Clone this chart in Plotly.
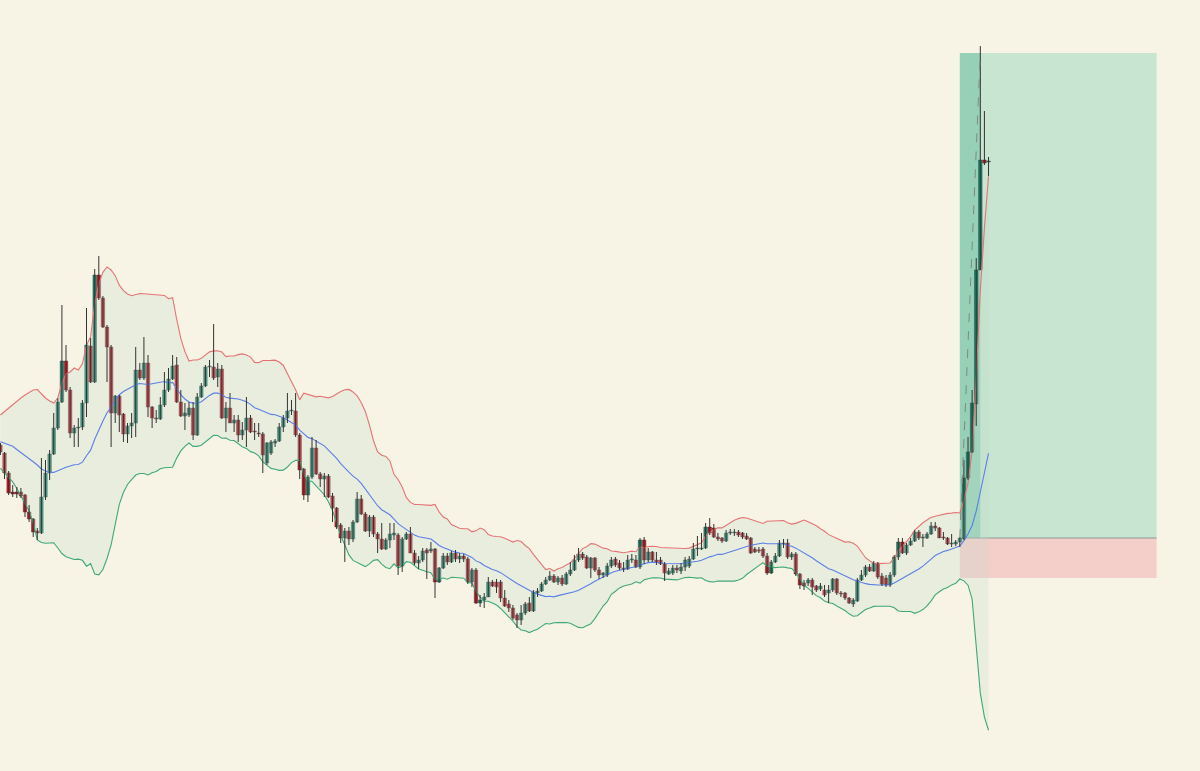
import numpy as np
import pandas as pd
import plotly.graph_objects as go

# ---- candle data (price units) ----
opens = [555, 547, 527, 508, 508, 508, 505, 488, 481, 469,
         467, 503, 527, 546, 572, 598, 639, 610, 567, 572,
         573, 597, 654, 618, 725, 702, 673, 653, 587, 604,
         586, 566, 574, 577, 630, 622, 637, 593, 582, 581,
         595, 610, 621, 635, 598, 584, 585, 592, 565, 603,
         614, 633, 633, 623, 631, 582, 592, 577, 580, 565,
         570, 582, 569, 567, 566, 537, 547, 557, 559, 573,
         582, 589, 589, 565, 531, 505, 523, 552, 526, 521,
         524, 504, 492, 475, 462, 469, 461, 478, 501, 486,
         469, 483, 466, 461, 451, 460, 465, 465, 434, 461,
         466, 447, 437, 440, 450, 449, 451, 418, 432, 444,
         438, 447, 441, 444, 441, 418, 430, 397, 400, 403,
         418, 418, 418, 402, 396, 392, 385, 380, 387, 397,
         389, 407, 409, 416, 420, 424, 418, 422, 416, 426,
         430, 440, 446, 443, 432, 442, 430, 425, 425, 434,
         441, 437, 432, 431, 440, 440, 433, 460, 440, 448,
         440, 440, 436, 426, 427, 432, 429, 433, 434, 441,
         451, 451, 452, 473, 472, 463, 462, 459, 467, 467,
         468, 467, 464, 462, 451, 450, 451, 444, 427, 438,
         444, 457, 457, 443, 446, 426, 417, 417, 420, 414,
         411, 410, 407, 410, 421, 407, 407, 402, 396, 399,
         420, 425, 433, 429, 437, 424, 422, 415, 425, 443,
         458, 447, 455, 459, 468, 462, 462, 466, 474, 472,
         463, 462, 456, 456, 458, 461, 522, 548, 596, 730,
         840, 838]
highs = [557, 548, 529, 515, 513, 512, 506, 495, 482, 472,
         542, 540, 550, 587, 602, 695, 655, 613, 575, 582,
         600, 692, 662, 731, 744, 704, 675, 655, 605, 605,
         587, 577, 587, 653, 637, 663, 645, 594, 590, 603,
         628, 632, 645, 643, 610, 597, 598, 598, 607, 617,
         635, 640, 676, 637, 635, 598, 607, 585, 585, 578,
         603, 585, 577, 577, 568, 558, 560, 561, 577, 585,
         607, 600, 607, 567, 532, 525, 563, 560, 528, 527,
         526, 507, 493, 477, 472, 473, 480, 508, 505, 488,
         485, 485, 468, 477, 462, 477, 477, 467, 463, 468,
         473, 450, 444, 452, 452, 458, 452, 433, 447, 447,
         449, 450, 447, 446, 443, 432, 432, 405, 407, 423,
         420, 421, 420, 410, 400, 395, 387, 395, 398, 403,
         410, 412, 418, 423, 429, 426, 424, 425, 428, 438,
         445, 452, 448, 445, 443, 443, 433, 428, 437, 443,
         443, 440, 438, 445, 446, 445, 462, 463, 452, 449,
         448, 443, 438, 432, 435, 435, 437, 443, 444, 457,
         464, 467, 477, 482, 476, 467, 463, 470, 471, 471,
         470, 468, 467, 463, 453, 453, 453, 447, 440, 447,
         460, 461, 461, 448, 448, 427, 420, 422, 422, 415,
         417, 415, 415, 422, 422, 409, 408, 403, 402, 422,
         430, 435, 436, 439, 438, 427, 425, 428, 445, 462,
         462, 457, 462, 470, 470, 466, 468, 478, 478, 473,
         468, 463, 466, 460, 463, 540, 563, 610, 742, 954,
         889, 843]
lows = [545, 521, 505, 503, 502, 502, 483, 478, 463, 460,
        466, 500, 520, 545, 570, 597, 608, 562, 553, 553,
        570, 583, 617, 617, 700, 672, 618, 553, 577, 568,
        558, 557, 562, 563, 620, 620, 583, 572, 577, 580,
        593, 608, 620, 597, 583, 570, 583, 560, 564, 602,
        613, 623, 620, 613, 581, 568, 577, 568, 558, 560,
        553, 567, 560, 563, 527, 535, 545, 553, 558, 568,
        577, 585, 563, 521, 500, 498, 521, 525, 513, 503,
        502, 478, 471, 457, 438, 455, 458, 477, 485, 468,
        463, 463, 447, 450, 450, 452, 460, 425, 428, 460,
        447, 435, 431, 438, 421, 447, 402, 417, 431, 435,
        437, 438, 437, 438, 416, 413, 396, 393, 392, 403,
        413, 407, 398, 393, 388, 380, 372, 375, 385, 388,
        388, 403, 408, 415, 419, 417, 415, 414, 415, 424,
        429, 438, 440, 431, 422, 428, 421, 422, 423, 432,
        433, 430, 428, 430, 437, 432, 431, 436, 438, 438,
        435, 435, 419, 425, 425, 427, 426, 429, 432, 440,
        444, 450, 451, 465, 462, 459, 457, 458, 465, 464,
        463, 461, 460, 446, 447, 447, 442, 425, 426, 437,
        443, 452, 441, 440, 424, 411, 410, 414, 405, 408,
        409, 403, 397, 408, 405, 403, 400, 396, 393, 398,
        419, 423, 428, 428, 421, 414, 413, 413, 423, 440,
        446, 445, 454, 458, 460, 453, 461, 465, 469, 462,
        460, 455, 453, 454, 453, 460, 520, 547, 574, 730,
        835, 824]
closes = [548, 527, 507, 506, 506, 504, 488, 481, 468, 467,
          503, 527, 546, 572, 598, 639, 610, 567, 572, 573,
          597, 655, 618, 725, 702, 673, 653, 587, 604, 585,
          566, 574, 577, 630, 622, 637, 593, 582, 581, 595,
          610, 621, 634, 598, 584, 587, 592, 565, 603, 614,
          633, 634, 622, 631, 582, 592, 577, 580, 565, 570,
          582, 568, 568, 566, 545, 557, 558, 559, 573, 582,
          589, 590, 565, 530, 505, 523, 552, 526, 521, 524,
          503, 492, 473, 462, 469, 461, 478, 501, 486, 469,
          483, 466, 461, 451, 460, 466, 467, 434, 461, 466,
          447, 437, 440, 449, 447, 451, 418, 432, 444, 438,
          447, 441, 444, 441, 418, 430, 397, 400, 403, 418,
          414, 413, 402, 394, 392, 382, 380, 387, 396, 389,
          408, 409, 416, 420, 424, 418, 422, 416, 426, 430,
          440, 446, 442, 432, 442, 430, 425, 427, 434, 440,
          435, 432, 431, 440, 441, 433, 460, 440, 448, 440,
          438, 436, 427, 429, 432, 430, 433, 440, 441, 451,
          452, 452, 473, 467, 463, 461, 459, 467, 468, 468,
          465, 463, 461, 447, 448, 449, 444, 427, 438, 444,
          457, 456, 443, 446, 426, 415, 414, 420, 413, 410,
          414, 405, 410, 421, 407, 406, 402, 397, 400, 420,
          425, 433, 429, 437, 423, 416, 415, 425, 443, 458,
          447, 455, 459, 468, 462, 463, 466, 474, 472, 462,
          462, 456, 457, 458, 462, 522, 548, 597, 730, 840,
          837, 839]

# Bollinger values for the first 19 bars (their window starts before the visible data)
bb_head_upper = [585, 588.5, 592, 595, 599, 602, 605, 607.5, 610, 610.5,
                 606, 602, 599, 597, 602, 617, 626, 628, 632]
bb_head_mid = [558.3, 557, 555.2, 553.8, 550.5, 547.2, 544.3, 541.3, 538.2, 535,
               531, 529, 527.6, 527.6, 529.5, 531, 532.8, 534, 535.3]
bb_head_lower = [531.7, 527.2, 522.6, 518.1, 511.5, 504.2, 496.9, 489.2, 477, 460,
                 457.5, 456.7, 457, 457.3, 452, 446.5, 443.2, 441.8, 440.5]

# Long position tool
entry_bar = 234
target_hit_bar = 239
position_end_bar = 282
entry_price = 462
target_price = 947
stop_price = 422

# ---- derived ----
n = len(closes)
bars = list(range(n))
s = pd.Series(closes, dtype=float)
bb_mid = s.rolling(20).mean()
bb_sd = s.rolling(20).std(ddof=0)
bb_up = bb_mid + 2 * bb_sd
bb_lo = bb_mid - 2 * bb_sd
k = len(bb_head_mid)
bb_mid.iloc[:k] = bb_head_mid
bb_up.iloc[:k] = bb_head_upper
bb_lo.iloc[:k] = bb_head_lower

UP_COL = "#13866a"
DN_COL = "#d0101c"
EDGE = "#3a3a3a"
BG = "#f8f4e5"

fig = go.Figure()

fig.add_trace(go.Scatter(x=bars, y=bb_up, mode="lines",
                         line=dict(color="#e47474", width=1.1), hoverinfo="skip", showlegend=False))
fig.add_trace(go.Scatter(x=bars, y=bb_lo, mode="lines", fill="tonexty",
                         fillcolor="rgba(195,220,205,0.28)",
                         line=dict(color="#3fa877", width=1.1), hoverinfo="skip", showlegend=False))
fig.add_trace(go.Scatter(x=bars, y=bb_mid, mode="lines",
                         line=dict(color="#5a7fe6", width=1.1), hoverinfo="skip", showlegend=False))

# wicks
wx, wy = [], []
for i in bars:
    wx += [i, i, None]
    wy += [lows[i], highs[i], None]
fig.add_trace(go.Scatter(x=wx, y=wy, mode="lines", line=dict(color="#333333", width=1),
                         hoverinfo="skip", showlegend=False))

# bodies
body_base = [min(o, c) for o, c in zip(opens, closes)]
body_len = [max(abs(c - o), 0.8) for o, c in zip(opens, closes)]
body_col = [UP_COL if c >= o else DN_COL for o, c in zip(opens, closes)]
fig.add_trace(go.Bar(x=bars, y=body_len, base=body_base, width=0.86,
                     marker=dict(color=body_col, line=dict(color=EDGE, width=0.45)),
                     hoverinfo="skip", showlegend=False))

shapes = [
    dict(type="rect", xref="x", yref="y", x0=entry_bar, x1=position_end_bar,
         y0=entry_price, y1=target_price, fillcolor="#c7e5d0", line=dict(width=0), layer="below"),
    dict(type="rect", xref="x", yref="y", x0=entry_bar, x1=target_hit_bar,
         y0=entry_price, y1=target_price, fillcolor="rgba(60,170,135,0.35)", line=dict(width=0), layer="below"),
    dict(type="rect", xref="x", yref="y", x0=entry_bar, x1=position_end_bar,
         y0=stop_price, y1=entry_price, fillcolor="#f4cfc9", line=dict(width=0), layer="below"),
    dict(type="line", xref="x", yref="y", x0=entry_bar, x1=position_end_bar,
         y0=entry_price, y1=entry_price, line=dict(color="#8a9a96", width=1), layer="below"),
    dict(type="line", xref="x", yref="y", x0=entry_bar, x1=target_hit_bar,
         y0=entry_price, y1=target_price, line=dict(color="#7d8a86", width=1, dash="dash")),
]

fig.update_layout(
    width=1200, height=771,
    margin=dict(l=0, r=0, t=0, b=0),
    paper_bgcolor=BG, plot_bgcolor=BG,
    shapes=shapes,
    showlegend=False,
    barmode="overlay",
    xaxis=dict(range=[-0.1, 292.58], visible=False, fixedrange=True),
    yaxis=dict(range=[229, 1000], visible=False, fixedrange=True),
)

fig.write_html("out.html",
               config={"displayModeBar": False},
               post_script="document.body.style.margin='0';document.body.style.background='%s';" % BG)
